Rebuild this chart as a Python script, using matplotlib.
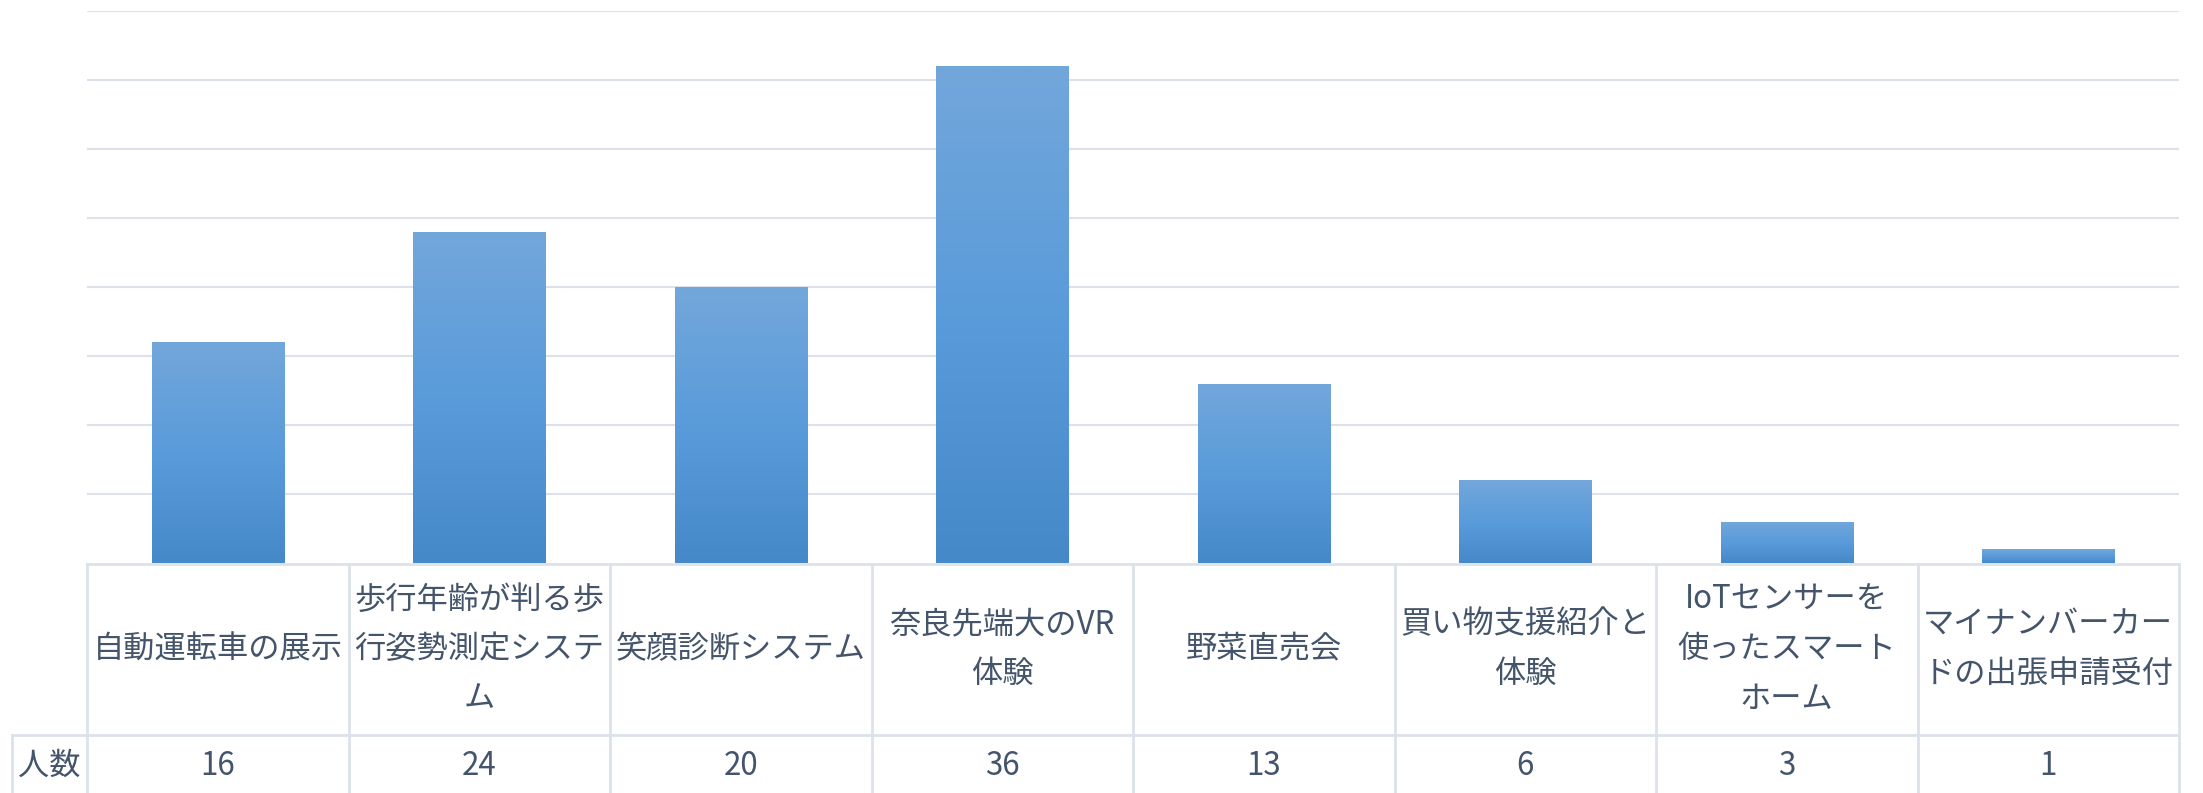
import numpy as np
import matplotlib.pyplot as plt
from matplotlib.colors import LinearSegmentedColormap

plt.rcParams['font.family'] = ['Noto Sans CJK JP', 'DejaVu Sans']

# 展示ごとの来場者数
categories = [
    "自動運転車の展示",
    "歩行年齢が判る歩\n行姿勢測定システ\nム",
    "笑顔診断システム",
    "奈良先端大のVR\n体験",
    "野菜直売会",
    "買い物支援紹介と\n体験",
    "IoTセンサーを\n使ったスマート\nホーム",
    "マイナンバーカー\nドの出張申請受付",
]
counts = [16, 24, 20, 36, 13, 6, 3, 1]
row_label = "人数"

W, H = 2203, 793
TEXT = "#44546a"
LINE = "#dde1e9"
FS = 22.5

fig = plt.figure(figsize=(W / 100, H / 100), dpi=100)

# グラフ本体
left, right = 87 / W, 2179 / W
ax = fig.add_axes([left, (H - 563) / H, right - left, (563 - 11) / H])
x = np.arange(len(counts))
bars = ax.bar(x, counts, width=0.505, color="#5a9bdb", zorder=2)

# 縦方向のグラデーション（上が明るく下が濃い）
cmap = LinearSegmentedColormap.from_list("g", ["#4589c8", "#5a9bdb", "#72a7da"])
grad = np.linspace(0, 1, 256).reshape(-1, 1)
for b in bars:
    x0, y0 = b.get_x(), b.get_y()
    im = ax.imshow(grad, cmap=cmap, origin="lower", aspect="auto",
                   extent=(x0, x0 + b.get_width(), y0, y0 + b.get_height()),
                   zorder=3)
    im.set_clip_path(b)

ax.set_xlim(-0.5, len(counts) - 0.5)
ax.set_ylim(0, 40)
ax.set_yticks(np.arange(5, 41, 5))
ax.yaxis.grid(True, color=LINE, linewidth=1.5, zorder=0)
ax.tick_params(left=False, bottom=False, labelleft=False, labelbottom=False)
for s in ax.spines.values():
    s.set_visible(False)

# データテーブル
axt = fig.add_axes([left, 0, right - left, (H - 563) / H])
axt.set_xlim(-0.5, len(counts) - 0.5)
axt.set_ylim(H, 563)
axt.axis("off")
lab_x = -0.5 - (87 - 12) / 262
kw = dict(color=LINE, linewidth=2, clip_on=False)
axt.plot([-0.5, len(counts) - 0.5], [564, 564], **kw)
axt.plot([lab_x, len(counts) - 0.5], [735, 735], **kw)
for i in range(len(counts) + 1):
    axt.plot([i - 0.5, i - 0.5], [564, H], **kw)
axt.plot([lab_x, lab_x], [735, H], **kw)

for i, (c, v) in enumerate(zip(categories, counts)):
    axt.text(i, 649, c, ha="center", va="center", fontsize=FS,
             color=TEXT, linespacing=1.7, clip_on=False)
    axt.text(i, 766, str(v), ha="center", va="center", fontsize=FS,
             color=TEXT, clip_on=False)
axt.text((lab_x - 0.5) / 2, 766, row_label, ha="center", va="center",
         fontsize=FS, color=TEXT, clip_on=False)

fig.savefig("out.png", dpi=100, facecolor="white")
